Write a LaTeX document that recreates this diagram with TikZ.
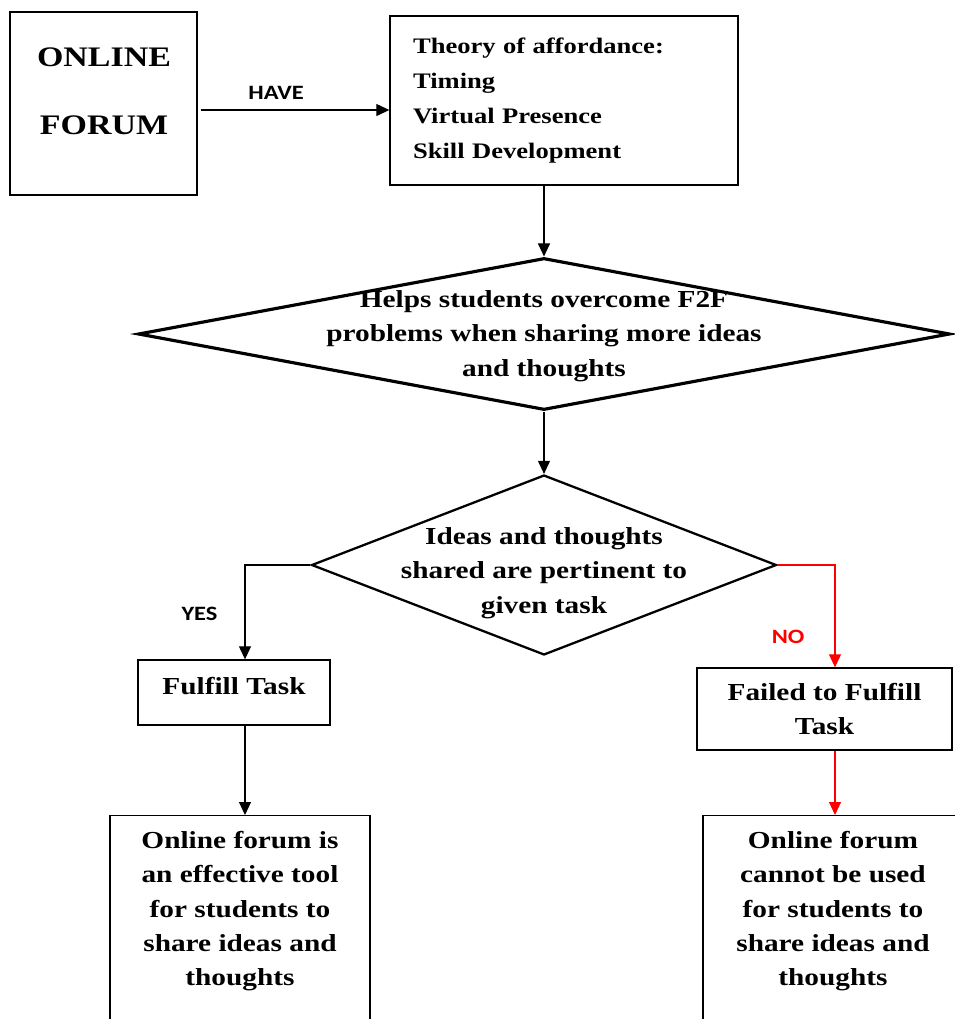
\documentclass[tikz,border=0pt]{standalone}
\usepackage{fontspec}
\setmainfont{Liberation Serif}[FakeStretch=1.2]
\newfontfamily\labelfont{Carlito}[FakeStretch=1.2]
\usetikzlibrary{arrows.meta,shapes.geometric}

\tikzset{
	box/.style={draw, line width=0.8pt, rectangle, inner sep=0pt},
	decision/.style={draw, diamond, inner sep=0pt},
	arr/.style={line width=0.6pt, -{Triangle[length=2.6mm,width=2.4mm]}},
	redarr/.style={arr, color=red},
	tag/.style={font=\labelfont\bfseries\fontsize{11.6}{14}\selectfont, inner sep=0pt},
	txt/.style={font=\bfseries\fontsize{13.9}{19.5}\selectfont, align=center, inner sep=0pt},
}

\begin{document}
\begin{tikzpicture}[x=0.02cm, y=-0.02cm]
		%%%%% START %%%%%
		
		\useasboundingbox (0, 0) rectangle (955, 1019);
		\clip (0, 0) rectangle (955, 1019);
		
		\node[box, minimum width=3.74cm, minimum height=3.66cm] (forum) at (103.5, 103.5) {};
		\node[txt, font=\bfseries\fontsize{16.1}{18}\selectfont] (online) at (104, 57) {ONLINE};
		\node[txt, font=\bfseries\fontsize{16.1}{18}\selectfont] (forumword) at (104, 125) {FORUM};
		
		\node[box, text width=6.04cm, inner xsep=0.46cm, minimum height=3.38cm, align=left, font=\bfseries\fontsize{12.6}{19.8}\selectfont] (theory) at (564, 100.5) {Theory of affordance:\\Timing\\Virtual Presence\\Skill Development};
		
		\coordinate (haveA) at ([yshift=-0.13cm]forum.east);
		\draw[arr] ([xshift=0.06cm]haveA) -- (haveA -| theory.west) node[tag, pos=0.4, above=0.2cm] (have) {HAVE};
		
		\node[decision, line width=1.8pt, minimum width=16.24cm, minimum height=3.04cm] (help) at (544, 334) {};
		\node[txt] (helptxt) at (544, 336) {Helps students overcome F2F\\problems when sharing more ideas\\and thoughts};
		\draw[arr] (theory.south -| help.north) -- (help.north);
		
		\node[decision, line width=1.3pt, minimum width=9.3cm, minimum height=3.6cm] (ideas) at (544, 565) {};
		\node[txt] (ideastxt) at (544, 573) {Ideas and thoughts\\shared are pertinent to\\given task};
		\draw[arr] (help.south) -- (ideas.north);
		
		\node[box, txt, draw, line width=0.8pt, minimum width=3.84cm, minimum height=1.3cm, text depth=0.25cm] (fulfill) at (234, 692.5) {Fulfill Task};
		\node[box, txt, draw, line width=0.8pt, minimum width=5.1cm, minimum height=1.64cm] (failed) at (824.5, 709) {Failed to Fulfill\\Task};
		
		\draw[arr] (ideas.west) -| ([xshift=0.22cm]fulfill.north) node[tag, pos=0.76, left=0.54cm] (yes) {YES};
		\draw[redarr] (ideas.east) -| ([xshift=0.21cm]failed.north) node[tag, pos=0.85, left=0.6cm, red] (no) {NO};
		
		\node[box, anchor=north, minimum width=5.2cm, minimum height=4.6cm] (effective) at (240, 815) {};
		\node[txt, anchor=north] (effectivetxt) at ([yshift=-0.32cm]effective.north) {Online forum is\\an effective tool\\for students to\\share ideas and\\thoughts};
		
		\node[box, anchor=north, minimum width=5.2cm, minimum height=4.6cm] (cannot) at (833, 815) {};
		\node[txt, anchor=north] (cannottxt) at ([yshift=-0.32cm]cannot.north) {Online forum\\cannot be used\\for students to\\share ideas and\\thoughts};
		
		\coordinate (yesdown) at ([xshift=0.22cm]fulfill.south);
		\draw[arr] (yesdown) -- (yesdown |- effective.north);
		\coordinate (nodown) at ([xshift=0.21cm]failed.south);
		\draw[redarr] (nodown) -- (nodown |- cannot.north);
		
		%%%%% END %%%%%
	\end{tikzpicture}
\end{document}
